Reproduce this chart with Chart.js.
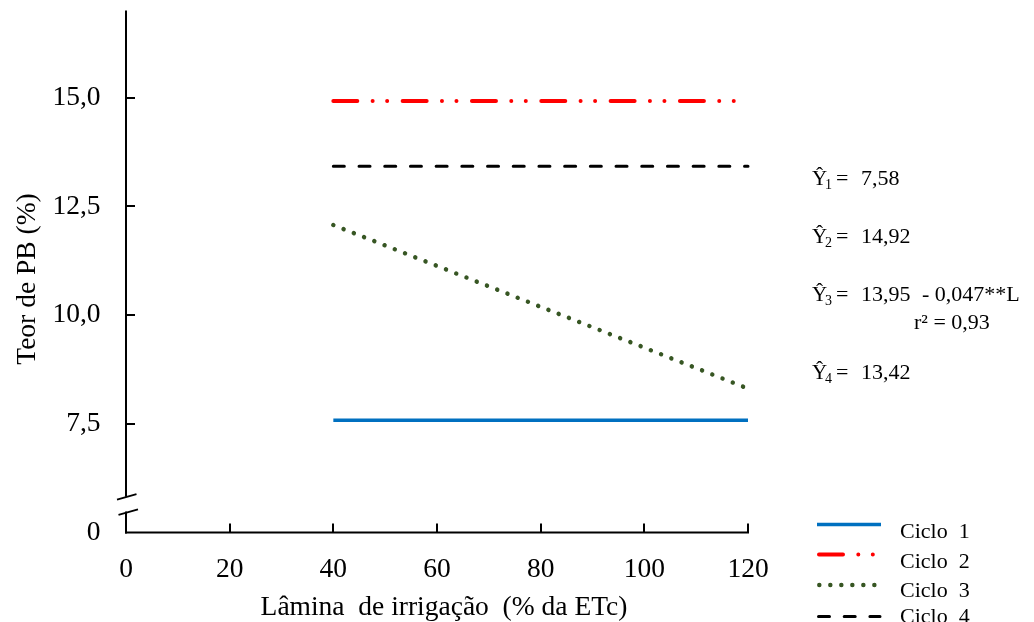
<!DOCTYPE html>
<html><head><meta charset="utf-8">
<script src="https://cdn.jsdelivr.net/npm/chart.js@4/dist/chart.umd.min.js"></script>
<style>html,body{margin:0;padding:0;background:#fff;overflow:hidden}#wrap{width:1034px;height:622px;position:relative}canvas{display:block}</style>
</head><body><div id="wrap"><canvas id="c" width="1034" height="622"></canvas></div>
<script>
// ---- data ----
const lamina = [40, 120];
const ciclo1 = [7.58, 7.58];
const ciclo2 = [14.92, 14.92];
const ciclo3 = [12.07, 8.31];
const ciclo4 = [13.42, 13.42];
const serieLabels = ['Ciclo  1', 'Ciclo  2', 'Ciclo  3', 'Ciclo  4'];
const xTickValues = [0, 20, 40, 60, 80, 100, 120];
const yTickValues = [5, 7.5, 10, 12.5, 15];
const yTickLabels = ['0', '7,5', '10,0', '12,5', '15,0'];
const eqSubs = ['1', '2', '3', '4'];
const eqIntercepts = ['7,58', '14,92', '13,95', '13,42'];
const eqSlopeText = '- 0,047**L';
const r2Text = 'r² = 0,93';
const xTitle = 'Lâmina  de irrigação  (% da ETc)';
const yTitle = 'Teor de PB (%)';

const FONT = "'Liberation Serif', 'Times New Roman', serif";
const pts = ys => lamina.map((x, i) => ({ x: x, y: ys[i] }));

const decor = {
  id: 'decor',
  afterDraw(chart) {
    const ctx = chart.ctx, xs = chart.scales.x, ys = chart.scales.y;
    const ax = Math.round(xs.getPixelForValue(0));
    const ay = ys.getPixelForValue(5);
    const top = ys.getPixelForValue(17);
    ctx.save();
    ctx.strokeStyle = '#000'; ctx.lineWidth = 2; ctx.lineCap = 'butt';
    // y axis with break
    const b1 = ys.getPixelForValue(5.82), b2 = ys.getPixelForValue(5.48);
    ctx.beginPath();
    ctx.moveTo(ax, top); ctx.lineTo(ax, b1);
    ctx.moveTo(ax, b2); ctx.lineTo(ax, ay + 1);
    ctx.stroke();
    ctx.lineWidth = 1.8;
    ctx.beginPath();
    ctx.moveTo(ax - 9, b1 + 2.7); ctx.lineTo(ax + 10.5, b1 - 2.7);
    ctx.moveTo(ax - 7.5, b2 + 3.2); ctx.lineTo(ax + 12, b2 - 2.3);
    ctx.stroke();
    // x axis
    ctx.lineWidth = 2;
    ctx.beginPath();
    ctx.moveTo(ax - 1, ay); ctx.lineTo(xs.getPixelForValue(120) + 1, ay);
    ctx.stroke();
    // x ticks (inward)
    ctx.beginPath();
    xTickValues.forEach(v => {
      if (v === 0) return;
      const px = Math.round(xs.getPixelForValue(v));
      ctx.moveTo(px, ay); ctx.lineTo(px, ay - 9);
    });
    // y ticks (inward)
    yTickValues.forEach(v => {
      if (v === 5) return;
      const py = Math.round(ys.getPixelForValue(v));
      ctx.moveTo(ax, py); ctx.lineTo(ax + 9, py);
    });
    ctx.stroke();

    // axis titles
    ctx.fillStyle = '#000';
    ctx.font = '27.5px ' + FONT;
    ctx.textAlign = 'center'; ctx.textBaseline = 'alphabetic';
    ctx.fillText(xTitle, 444, 615);
    ctx.save();
    ctx.translate(34.5, 279); ctx.rotate(-Math.PI / 2);
    ctx.fillText(yTitle, 0, 0);
    ctx.restore();

    // equations
    ctx.textAlign = 'left';
    const eqBase = [185, 243, 301, 379];
    eqBase.forEach((b, i) => {
      ctx.font = '21px ' + FONT;
      ctx.fillText('Ŷ', 812, b);
      ctx.font = '14px ' + FONT;
      ctx.fillText(eqSubs[i], 825, b + 4);
      ctx.font = '22px ' + FONT;
      ctx.fillText('=', 836, b);
      ctx.fillText(eqIntercepts[i], 861, b);
      if (i === 2) ctx.fillText(eqSlopeText, 922, b);
    });
    ctx.fillText(r2Text, 914, 329);

    // legend
    const lineY = [524.5, 554.5, 585, 616.5];
    const textY = [538, 567.5, 596.5, 623];
    const segs = [[817, 881], [819, 876], [819.3, 877], [818.5, 880]];
    chart.data.datasets.forEach((ds, i) => {
      ctx.save();
      ctx.strokeStyle = ds.borderColor; ctx.lineWidth = ds.borderWidth;
      ctx.lineCap = ds.borderCapStyle || 'butt';
      ctx.setLineDash(ds.borderDash || []);
      ctx.beginPath();
      ctx.moveTo(segs[i][0], lineY[i]); ctx.lineTo(segs[i][1], lineY[i]);
      ctx.stroke();
      ctx.restore();
      ctx.font = '22px ' + FONT;
      ctx.fillStyle = '#000';
      ctx.fillText(ds.label, 900, textY[i]);
    });
    ctx.restore();
  }
};

const common = { pointRadius: 0, pointHoverRadius: 0, fill: false, tension: 0, clip: false };

new Chart(document.getElementById('c'), {
  type: 'line',
  data: {
    datasets: [
      Object.assign({ label: serieLabels[0], data: pts(ciclo1), borderColor: '#0070C0', borderWidth: 3.5, borderCapStyle: 'butt' }, common),
      Object.assign({ label: serieLabels[1], data: pts(ciclo2), borderColor: '#FF0000', borderWidth: 4, borderDash: [24, 15.3, 0.01, 14.5, 0.01, 15.5], borderCapStyle: 'round' }, common),
      Object.assign({ label: serieLabels[2], data: pts(ciclo3), borderColor: '#375623', borderWidth: 4.5, borderDash: [0.01, 11], borderCapStyle: 'round' }, common),
      Object.assign({ label: serieLabels[3], data: pts(ciclo4), borderColor: '#000000', borderWidth: 3, borderDash: [11, 14.7], borderCapStyle: 'round' }, common)
    ]
  },
  options: {
    responsive: false,
    animation: false,
    devicePixelRatio: 1,
    layout: { padding: { top: 10.6, right: 286, left: 0, bottom: 0 } },
    plugins: { legend: { display: false }, tooltip: { enabled: false } },
    events: [],
    scales: {
      x: {
        type: 'linear', min: 0, max: 120,
        afterBuildTicks: s => { s.ticks = xTickValues.map(v => ({ value: v })); },
        afterFit: s => { s.height = 89.5; s.paddingLeft = 0; s.paddingRight = 0; s.paddingTop = 0; s.paddingBottom = 0; },
        grid: { display: false, drawTicks: false },
        border: { display: false },
        ticks: { color: '#000', font: { family: FONT, size: 27.5 }, padding: 20.4, maxRotation: 0, autoSkip: false },
        title: { display: false, text: xTitle }
      },
      y: {
        type: 'linear', min: 5, max: 17,
        afterBuildTicks: s => { s.ticks = yTickValues.map(v => ({ value: v })); },
        afterFit: s => { s.width = 126; s.paddingTop = 0; s.paddingBottom = 0; s.paddingLeft = 0; s.paddingRight = 0; },
        grid: { display: false, drawTicks: false },
        border: { display: false },
        ticks: {
          color: '#000', font: { family: FONT, size: 27.5 }, padding: 25.5, autoSkip: false,
          callback: v => { const i = yTickValues.indexOf(v); return i >= 0 ? yTickLabels[i] : ''; }
        },
        title: { display: false, text: yTitle }
      }
    }
  },
  plugins: [decor]
});
</script>
</body></html>
